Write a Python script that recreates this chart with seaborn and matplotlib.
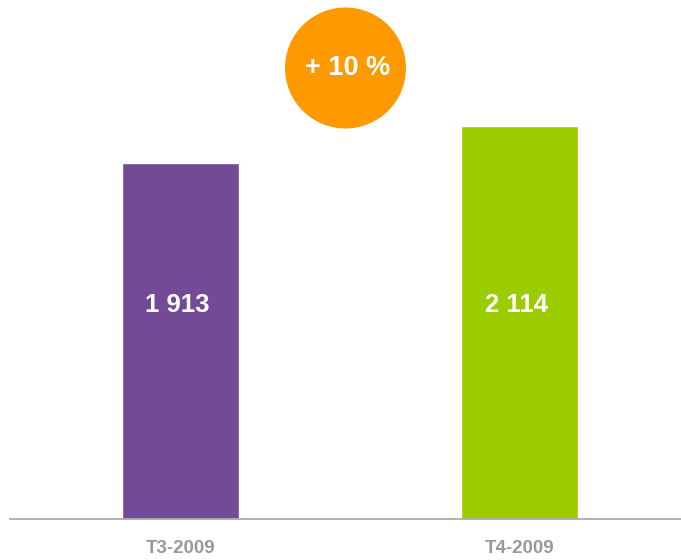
import matplotlib
matplotlib.use("Agg")
import matplotlib.pyplot as plt
from matplotlib.patches import Ellipse
import seaborn as sns

# données
periodes = ["T3-2009", "T4-2009"]
valeurs = [1913, 2114]
etiquettes = ["1 913", "2 114"]
couleurs = ["#734A96", "#9ACC00"]
variation = "+ 10 %"

sns.set_style("white")
plt.rcParams["font.family"] = ["Liberation Sans", "DejaVu Sans"]

fig = plt.figure(figsize=(6.81, 5.6), dpi=100)
ax = fig.add_axes([10 / 681, 41 / 560, 671 / 681, 519 / 560])

sns.barplot(x=periodes, y=valeurs, hue=periodes, palette=couleurs,
            width=0.345, saturation=1, legend=False, ax=ax)

ax.set_xlim(-0.503, 1.476)
ax.set_ylim(0, 2114 * 519 / 393)

# valeurs dans les barres
for i, txt in enumerate(etiquettes):
    ax.text(i - 0.01, 0.412, txt, transform=ax.get_xaxis_transform(),
            ha="center", va="center", color="white",
            fontsize=18.5, fontweight="bold")

# axe
for s in ["top", "right", "left"]:
    ax.spines[s].set_visible(False)
ax.spines["bottom"].set_color("#AAAAAA")
ax.spines["bottom"].set_linewidth(1.3)
ax.set_yticks([])
ax.tick_params(axis="x", length=0, pad=15, labelsize=13.5, labelcolor="#999999")
for lab in ax.get_xticklabels():
    lab.set_fontweight("bold")
ax.set_xlabel("")
ax.set_ylabel("")

# pastille de variation
fig.add_artist(Ellipse((345.5 / 681, 1 - 68 / 560), 121 / 681, 121 / 560,
                       transform=fig.transFigure, color="#FF9900", lw=0))
fig.text(348 / 681, 1 - 68 / 560, variation, ha="center", va="center",
         color="white", fontsize=19.5, fontweight="bold")

fig.savefig("out.png", dpi=100, facecolor="white")
